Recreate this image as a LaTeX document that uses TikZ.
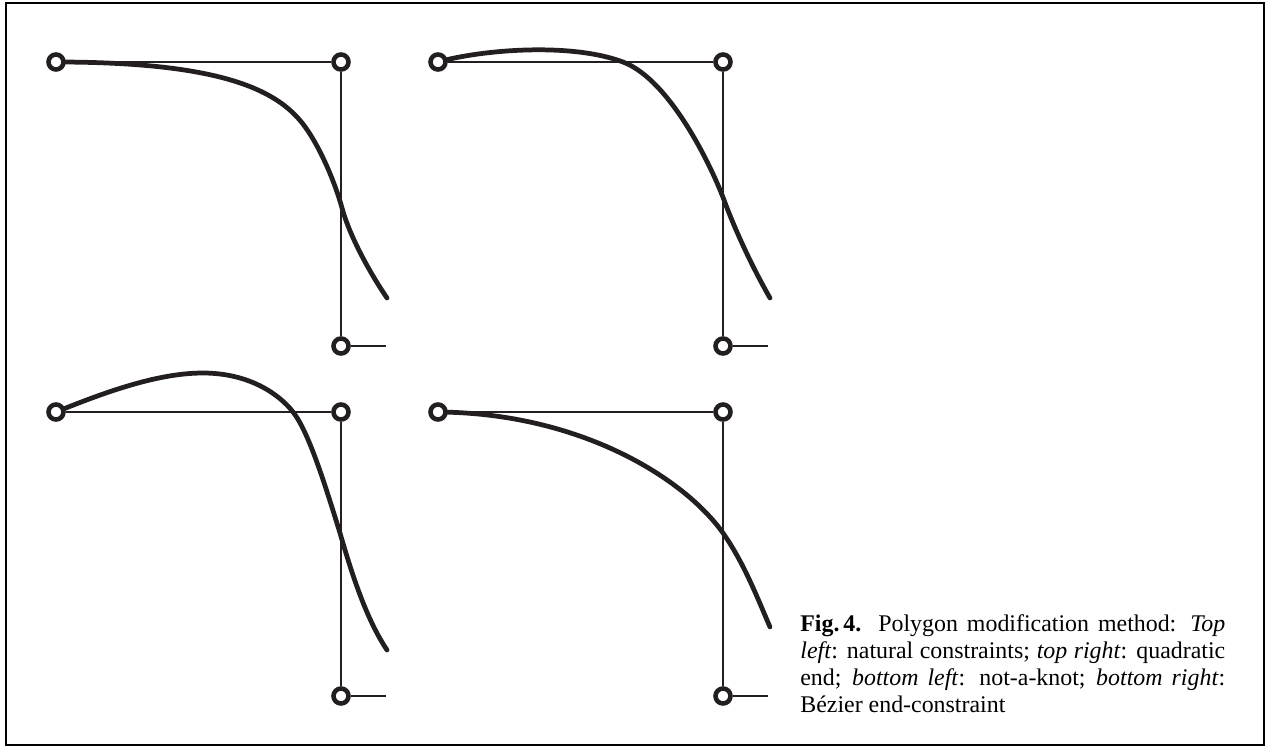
\documentclass[tikz,border=0pt]{standalone}
\usepackage{fontspec}
\setmainfont{Liberation Serif}
\usepackage{xcolor}
\usepackage{tikz}
\usetikzlibrary{positioning}
\definecolor{ink}{HTML}{231F20}
\pgfdeclarelayer{background}
\pgfsetlayers{background,main}

\begin{document}
\begin{tikzpicture}[
  x=0.02cm,y=-0.02cm,
  knot/.style={circle,draw=ink,fill=white,line width=2.6pt,inner sep=0pt,minimum size=0.3cm},
  poly/.style={draw=ink,line width=.75pt},
  spline/.style={draw=ink,line width=2.7pt,line cap=round},
  frame/.style={draw=black,line width=1.1pt}
]
\useasboundingbox (0,0) rectangle (1275,748);
\draw[frame] (6,3) rectangle (1264,745);
\foreach \p/\dx/\dy in {tl/0/0,tr/382/0,bl/0/350,br/382/350}{
  \begin{scope}[shift={(\dx,\dy)}]
    \node[knot] (\p0) at (56,62) {};
    \node[knot] (\p1) at (341,62) {};
    \node[knot] (\p2) at (341,346) {};
    \coordinate (\p3) at (386,346);
    \begin{pgfonlayer}{background}
      \draw[poly] (\p0) -- (\p1) -- (\p2) -- (\p3);
    \end{pgfonlayer}
  \end{scope}
}
\begin{pgfonlayer}{background}
\draw[spline] (tl0.center) .. controls (212,62) and (269,87) .. (297,117)
  .. controls (316,137) and (334,179) .. (342,208)
  .. controls (350,237) and (370,273) .. (387,298);
\draw[spline] (tr0.center) .. controls (480,50) and (570,42) .. (623,62)
  .. controls (671,80) and (713,170) .. (724,200)
  .. controls (737,235) and (755,272) .. (770,298);
\draw[spline] (bl0.center) .. controls (110,390) and (160,373) .. (203,373)
  .. controls (250,373) and (280,395) .. (293,412)
  .. controls (309,432) and (326,488) .. (340,533)
  .. controls (353,578) and (367,620) .. (387,650);
\draw[spline] (br0.center) .. controls (580,413) and (684,478) .. (723,533)
  .. controls (744,563) and (757,597) .. (770,627);
\end{pgfonlayer}
\node[anchor=north west,text width=8.5cm,align=justify,inner sep=0pt,
  font=\fontsize{13.6}{15.4}\selectfont] (caption) at (800,614)
  {\noindent\textbf{Fig.\,4.} Polygon modification method: \textit{Top}\linebreak
  \textit{left}: natural constraints; \textit{top right}: quadratic\linebreak
  end; \textit{bottom left}: not-a-knot; \textit{bottom right}:\linebreak
  Bézier end-constraint};
\end{tikzpicture}
\end{document}
